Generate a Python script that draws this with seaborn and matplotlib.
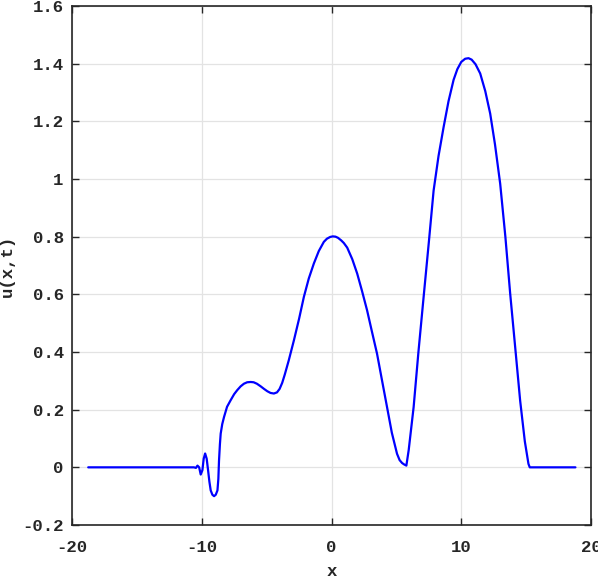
import matplotlib
matplotlib.use("Agg")
import matplotlib.pyplot as plt
import seaborn as sns
import pandas as pd

x_vals = [-18.75, -15.0, -12.0, -11.0, -10.85, -10.6, -10.45, -10.33, -10.2, -10.08,
          -9.95, -9.85, -9.74, -9.62, -9.51, -9.41, -9.31, -9.18, -9.05, -8.92,
          -8.79, -8.72, -8.67, -8.60, -8.54, -8.42, -8.28, -8.05, -7.77, -7.5,
          -7.26, -7.0, -6.75, -6.5, -6.23, -6.0, -5.75, -5.46, -5.2, -4.95,
          -4.7, -4.44, -4.2, -4.0, -3.8, -3.6, -3.3, -2.90, -2.5, -2.13,
          -1.75, -1.36, -0.98, -0.59, -0.35, -0.1, 0.1, 0.31, 0.5, 0.75,
          0.95, 1.21, 1.6, 1.98, 2.35, 2.74, 3.12, 3.51, 3.9, 4.28,
          4.65, 5.05, 5.25, 5.44, 5.6, 5.77, 5.95, 6.33, 6.7, 7.1,
          7.5, 7.87, 8.25, 8.64, 9.02, 9.41, 9.7, 10.0, 10.3, 10.56,
          10.8, 11.1, 11.46, 11.85, 12.23, 12.6, 13.0, 13.4, 13.77, 14.15,
          14.54, 14.9, 15.18, 15.28, 15.5, 16.5, 18.8]
u_vals = [0.0, 0.0, 0.0, 0.0, 0.0, 0.0, -0.002, 0.006, 0.0, -0.025,
          -0.01, 0.03, 0.048, 0.03, -0.011, -0.05, -0.08, -0.095, -0.10, -0.095,
          -0.08, -0.04, 0.023, 0.08, 0.117, 0.15, 0.175, 0.21, 0.233, 0.254,
          0.268, 0.281, 0.29, 0.295, 0.296, 0.295, 0.29, 0.281, 0.272, 0.264,
          0.258, 0.256, 0.26, 0.272, 0.293, 0.322, 0.37, 0.44, 0.515, 0.591,
          0.655, 0.707, 0.75, 0.782, 0.793, 0.799, 0.801, 0.80, 0.796, 0.787,
          0.778, 0.762, 0.722, 0.672, 0.612, 0.545, 0.47, 0.394, 0.30, 0.209,
          0.12, 0.047, 0.025, 0.015, 0.01, 0.006, 0.06, 0.209, 0.40, 0.591,
          0.78, 0.96, 1.08, 1.18, 1.27, 1.344, 1.381, 1.406, 1.417, 1.419,
          1.414, 1.398, 1.366, 1.305, 1.227, 1.12, 0.984, 0.80, 0.603, 0.42,
          0.231, 0.09, 0.012, 0.0, 0.0, 0.0, 0.0]

x_ticks = [-20, -10, 0, 10, 20]
y_ticks = [-0.2, 0, 0.2, 0.4, 0.6, 0.8, 1, 1.2, 1.4, 1.6]
y_tick_labels = ["-0.2", "0", "0.2", "0.4", "0.6", "0.8", "1", "1.2", "1.4", "1.6"]

sns.set_style("whitegrid")
plt.rcParams['font.family'] = ['Liberation Mono', 'DejaVu Sans']
plt.rcParams['font.weight'] = 'bold'

fig = plt.figure(figsize=(5.98, 5.77), dpi=100)
ax = fig.add_axes([72/598, 1 - 525/577, (591 - 72)/598, (525 - 6)/577])

df = pd.DataFrame({"x": x_vals, "u": u_vals})
sns.lineplot(data=df, x="x", y="u", ax=ax, color="#0000ff", linewidth=1.6,
             sort=False, estimator=None)

ax.set_xlim(-20, 20)
ax.set_ylim(-0.2, 1.6)
ax.set_xticks(x_ticks)
ax.set_yticks(y_ticks)
ax.set_xticklabels([str(t) for t in x_ticks])
ax.set_yticklabels(y_tick_labels)
ax.grid(True, color="#e3e3e3", linewidth=0.9)
for s in ax.spines.values():
    s.set_visible(True)
    s.set_color("#262626")
    s.set_linewidth(1.2)
ax.tick_params(direction="in", length=5, width=1.0, color="#262626",
               top=True, right=True, bottom=True, left=True,
               labelsize=12.5, labelcolor="#262626")
ax.tick_params(axis="x", pad=11)
ax.tick_params(axis="y", pad=6)
for lab in ax.get_xticklabels() + ax.get_yticklabels():
    lab.set_fontweight("bold")
ax.set_xlabel("x", fontsize=12.5, fontweight="bold", color="#262626", labelpad=6)
ax.set_ylabel("u(x,t)", fontsize=12.5, fontweight="bold", color="#262626", labelpad=5)

fig.savefig("out.png", dpi=100)
